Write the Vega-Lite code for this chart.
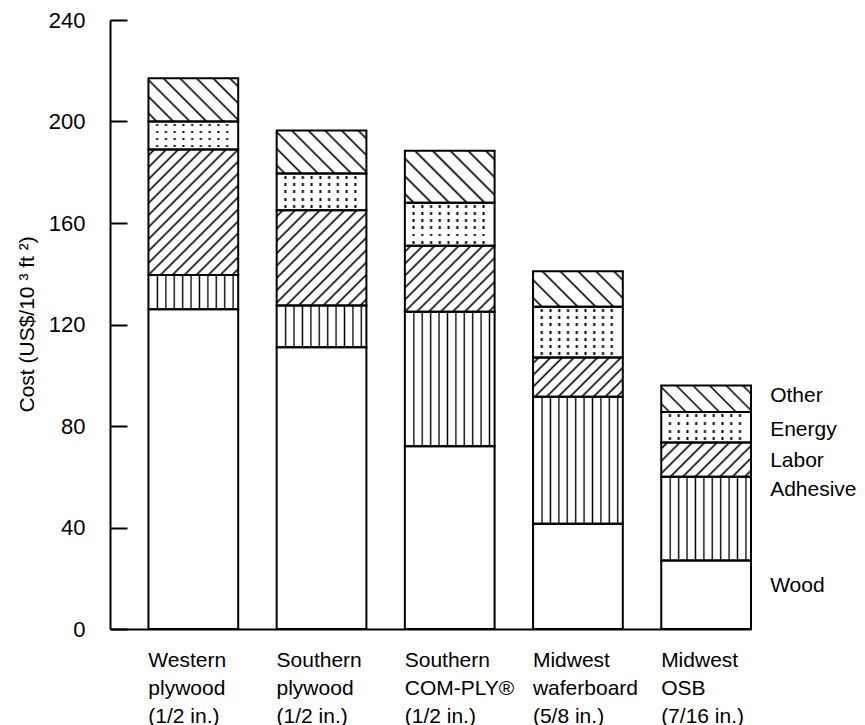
{
  "$schema": "https://vega.github.io/schema/vega-lite/v6.json",
  "width": 641,
  "height": 609,
  "autosize": {"type": "none"},
  "padding": {"left": 110, "top": 20, "right": 114, "bottom": 96},
  "background": "white",
  "config": {"view": {"stroke": null}, "font": "Liberation Sans"},
  "data": {"values": [
    {"product": "Western|plywood|(1/2 in.)", "component": "Wood", "cost": 126},
    {"product": "Western|plywood|(1/2 in.)", "component": "Adhesive", "cost": 13.5},
    {"product": "Western|plywood|(1/2 in.)", "component": "Labor", "cost": 49.5},
    {"product": "Western|plywood|(1/2 in.)", "component": "Energy", "cost": 11},
    {"product": "Western|plywood|(1/2 in.)", "component": "Other", "cost": 17},
    {"product": "Southern|plywood|(1/2 in.)", "component": "Wood", "cost": 111},
    {"product": "Southern|plywood|(1/2 in.)", "component": "Adhesive", "cost": 16.5},
    {"product": "Southern|plywood|(1/2 in.)", "component": "Labor", "cost": 37.5},
    {"product": "Southern|plywood|(1/2 in.)", "component": "Energy", "cost": 14.5},
    {"product": "Southern|plywood|(1/2 in.)", "component": "Other", "cost": 17},
    {"product": "Southern|COM-PLY®|(1/2 in.)", "component": "Wood", "cost": 72},
    {"product": "Southern|COM-PLY®|(1/2 in.)", "component": "Adhesive", "cost": 53},
    {"product": "Southern|COM-PLY®|(1/2 in.)", "component": "Labor", "cost": 26},
    {"product": "Southern|COM-PLY®|(1/2 in.)", "component": "Energy", "cost": 17},
    {"product": "Southern|COM-PLY®|(1/2 in.)", "component": "Other", "cost": 20.5},
    {"product": "Midwest|waferboard|(5/8 in.)", "component": "Wood", "cost": 41.5},
    {"product": "Midwest|waferboard|(5/8 in.)", "component": "Adhesive", "cost": 50},
    {"product": "Midwest|waferboard|(5/8 in.)", "component": "Labor", "cost": 15.5},
    {"product": "Midwest|waferboard|(5/8 in.)", "component": "Energy", "cost": 20},
    {"product": "Midwest|waferboard|(5/8 in.)", "component": "Other", "cost": 14},
    {"product": "Midwest|OSB|(7/16 in.)", "component": "Wood", "cost": 27},
    {"product": "Midwest|OSB|(7/16 in.)", "component": "Adhesive", "cost": 33},
    {"product": "Midwest|OSB|(7/16 in.)", "component": "Labor", "cost": 13.5},
    {"product": "Midwest|OSB|(7/16 in.)", "component": "Energy", "cost": 12},
    {"product": "Midwest|OSB|(7/16 in.)", "component": "Other", "cost": 10.5}
  ]},
  "transform": [{"stack": "cost", "groupby": ["product"], "as": ["c0", "c1"]}],
  "encoding": {
    "x": {
      "field": "product", "type": "nominal", "sort": null,
      "scale": {"type": "band", "paddingInner": 0.3, "paddingOuter": 0.15, "align": 1},
      "axis": {
        "title": null, "ticks": false, "domainColor": "black", "domainWidth": 2,
        "labelAlign": "left", "labelBaseline": "top", "labelOffset": -45, "labelPadding": 20,
        "labelFontSize": 21, "labelLineHeight": 28, "labelExpr": "split(datum.label, '|')",
        "labelAngle": 0, "labelOverlap": false, "labelColor": "black", "labelFont": "Liberation Sans", "labelBound": false, "labelFlush": false
      }
    },
    "y": {
      "field": "c1", "type": "quantitative",
      "scale": {"domain": [0, 240], "nice": false},
      "axis": {
        "values": [0, 40, 80, 120, 160, 200, 240], "grid": false,
        "tickSize": -17, "tickWidth": 2, "tickColor": "black", "domainColor": "black", "domainWidth": 2,
        "labelPadding": 42, "labelFontSize": 22, "labelColor": "black", "labelFont": "Liberation Sans",
        "title": "Cost (US$/10 ³ ft ²)", "titleFontSize": 21, "titleFontWeight": "normal", "titleColor": "black", "titleFont": "Liberation Sans",
        "titleX": -77, "titleY": 392, "titleAngle": -90, "titleBaseline": "alphabetic", "titleAlign": "left"
      }
    }
  },
  "layer": [
    {
      "mark": {"type": "bar", "strokeWidth": 0},
      "encoding": {
        "y2": {"field": "c0"},
        "fill": {
          "condition": [
            {"test": "datum.component=='Adhesive'", "value": {"gradient": "linear", "x1": 0, "y1": 0, "x2": 1, "y2": 0, "stops": [
              {"offset": 0.085, "color": "#fff"}, {"offset": 0.1, "color": "#000"}, {"offset": 0.115, "color": "#fff"},
              {"offset": 0.1787, "color": "#fff"}, {"offset": 0.1937, "color": "#000"}, {"offset": 0.2087, "color": "#fff"},
              {"offset": 0.2724, "color": "#fff"}, {"offset": 0.2874, "color": "#000"}, {"offset": 0.3024, "color": "#fff"},
              {"offset": 0.3661, "color": "#fff"}, {"offset": 0.3811, "color": "#000"}, {"offset": 0.3961, "color": "#fff"},
              {"offset": 0.4598, "color": "#fff"}, {"offset": 0.4748, "color": "#000"}, {"offset": 0.4898, "color": "#fff"},
              {"offset": 0.5535, "color": "#fff"}, {"offset": 0.5685, "color": "#000"}, {"offset": 0.5835, "color": "#fff"},
              {"offset": 0.6472, "color": "#fff"}, {"offset": 0.6622, "color": "#000"}, {"offset": 0.6772, "color": "#fff"},
              {"offset": 0.7409, "color": "#fff"}, {"offset": 0.7559, "color": "#000"}, {"offset": 0.7709, "color": "#fff"},
              {"offset": 0.8346, "color": "#fff"}, {"offset": 0.8496, "color": "#000"}, {"offset": 0.8646, "color": "#fff"},
              {"offset": 0.9283, "color": "#fff"}, {"offset": 0.9433, "color": "#000"}, {"offset": 0.9583, "color": "#fff"}
            ]}},
            {"test": "datum.component=='Energy'", "value": {"gradient": "linear", "x1": 0, "y1": 0, "x2": 1, "y2": 0, "stops": [
              {"offset": 0.075, "color": "#fff"}, {"offset": 0.097, "color": "#000"}, {"offset": 0.119, "color": "#fff"},
              {"offset": 0.1725, "color": "#fff"}, {"offset": 0.1945, "color": "#000"}, {"offset": 0.2165, "color": "#fff"},
              {"offset": 0.27, "color": "#fff"}, {"offset": 0.292, "color": "#000"}, {"offset": 0.314, "color": "#fff"},
              {"offset": 0.3675, "color": "#fff"}, {"offset": 0.3895, "color": "#000"}, {"offset": 0.4115, "color": "#fff"},
              {"offset": 0.465, "color": "#fff"}, {"offset": 0.487, "color": "#000"}, {"offset": 0.509, "color": "#fff"},
              {"offset": 0.5625, "color": "#fff"}, {"offset": 0.5845, "color": "#000"}, {"offset": 0.6065, "color": "#fff"},
              {"offset": 0.66, "color": "#fff"}, {"offset": 0.682, "color": "#000"}, {"offset": 0.704, "color": "#fff"},
              {"offset": 0.7575, "color": "#fff"}, {"offset": 0.7795, "color": "#000"}, {"offset": 0.8015, "color": "#fff"},
              {"offset": 0.855, "color": "#fff"}, {"offset": 0.877, "color": "#000"}, {"offset": 0.899, "color": "#fff"}
            ]}},
            {"test": "datum.component=='Labor' && indexof(datum.product,'Western')>=0", "value": {"gradient": "linear", "x1": 0, "y1": 0, "x2": 0.8107, "y2": 1.1352, "stops": [
              {"offset": 0.0173, "color": "#fff"}, {"offset": 0.0278, "color": "#000"}, {"offset": 0.0383, "color": "#fff"},
              {"offset": 0.0728, "color": "#fff"}, {"offset": 0.0833, "color": "#000"}, {"offset": 0.0938, "color": "#fff"},
              {"offset": 0.1284, "color": "#fff"}, {"offset": 0.1389, "color": "#000"}, {"offset": 0.1494, "color": "#fff"},
              {"offset": 0.1839, "color": "#fff"}, {"offset": 0.1944, "color": "#000"}, {"offset": 0.2049, "color": "#fff"},
              {"offset": 0.2395, "color": "#fff"}, {"offset": 0.25, "color": "#000"}, {"offset": 0.2605, "color": "#fff"},
              {"offset": 0.2951, "color": "#fff"}, {"offset": 0.3056, "color": "#000"}, {"offset": 0.3161, "color": "#fff"},
              {"offset": 0.3506, "color": "#fff"}, {"offset": 0.3611, "color": "#000"}, {"offset": 0.3716, "color": "#fff"},
              {"offset": 0.4062, "color": "#fff"}, {"offset": 0.4167, "color": "#000"}, {"offset": 0.4272, "color": "#fff"},
              {"offset": 0.4617, "color": "#fff"}, {"offset": 0.4722, "color": "#000"}, {"offset": 0.4827, "color": "#fff"},
              {"offset": 0.5173, "color": "#fff"}, {"offset": 0.5278, "color": "#000"}, {"offset": 0.5383, "color": "#fff"},
              {"offset": 0.5728, "color": "#fff"}, {"offset": 0.5833, "color": "#000"}, {"offset": 0.5938, "color": "#fff"},
              {"offset": 0.6284, "color": "#fff"}, {"offset": 0.6389, "color": "#000"}, {"offset": 0.6494, "color": "#fff"},
              {"offset": 0.6839, "color": "#fff"}, {"offset": 0.6944, "color": "#000"}, {"offset": 0.7049, "color": "#fff"},
              {"offset": 0.7395, "color": "#fff"}, {"offset": 0.75, "color": "#000"}, {"offset": 0.7605, "color": "#fff"},
              {"offset": 0.7951, "color": "#fff"}, {"offset": 0.8056, "color": "#000"}, {"offset": 0.8161, "color": "#fff"},
              {"offset": 0.8506, "color": "#fff"}, {"offset": 0.8611, "color": "#000"}, {"offset": 0.8716, "color": "#fff"},
              {"offset": 0.9062, "color": "#fff"}, {"offset": 0.9167, "color": "#000"}, {"offset": 0.9272, "color": "#fff"},
              {"offset": 0.9617, "color": "#fff"}, {"offset": 0.9722, "color": "#000"}, {"offset": 0.9827, "color": "#fff"}
            ]}},
            {"test": "datum.component=='Labor' && indexof(datum.product,'Southern|plywood')>=0", "value": {"gradient": "linear", "x1": 0, "y1": 0, "x2": 0.9694, "y2": 1.0288, "stops": [
              {"offset": 0.0211, "color": "#fff"}, {"offset": 0.0333, "color": "#000"}, {"offset": 0.0455, "color": "#fff"},
              {"offset": 0.0878, "color": "#fff"}, {"offset": 0.1, "color": "#000"}, {"offset": 0.1122, "color": "#fff"},
              {"offset": 0.1545, "color": "#fff"}, {"offset": 0.1667, "color": "#000"}, {"offset": 0.1789, "color": "#fff"},
              {"offset": 0.2211, "color": "#fff"}, {"offset": 0.2333, "color": "#000"}, {"offset": 0.2455, "color": "#fff"},
              {"offset": 0.2878, "color": "#fff"}, {"offset": 0.3, "color": "#000"}, {"offset": 0.3122, "color": "#fff"},
              {"offset": 0.3545, "color": "#fff"}, {"offset": 0.3667, "color": "#000"}, {"offset": 0.3789, "color": "#fff"},
              {"offset": 0.4211, "color": "#fff"}, {"offset": 0.4333, "color": "#000"}, {"offset": 0.4455, "color": "#fff"},
              {"offset": 0.4878, "color": "#fff"}, {"offset": 0.5, "color": "#000"}, {"offset": 0.5122, "color": "#fff"},
              {"offset": 0.5545, "color": "#fff"}, {"offset": 0.5667, "color": "#000"}, {"offset": 0.5789, "color": "#fff"},
              {"offset": 0.6211, "color": "#fff"}, {"offset": 0.6333, "color": "#000"}, {"offset": 0.6455, "color": "#fff"},
              {"offset": 0.6878, "color": "#fff"}, {"offset": 0.7, "color": "#000"}, {"offset": 0.7122, "color": "#fff"},
              {"offset": 0.7545, "color": "#fff"}, {"offset": 0.7667, "color": "#000"}, {"offset": 0.7789, "color": "#fff"},
              {"offset": 0.8211, "color": "#fff"}, {"offset": 0.8333, "color": "#000"}, {"offset": 0.8455, "color": "#fff"},
              {"offset": 0.8878, "color": "#fff"}, {"offset": 0.9, "color": "#000"}, {"offset": 0.9122, "color": "#fff"},
              {"offset": 0.9545, "color": "#fff"}, {"offset": 0.9667, "color": "#000"}, {"offset": 0.9789, "color": "#fff"}
            ]}},
            {"test": "datum.component=='Labor' && indexof(datum.product,'COM-PLY')>=0", "value": {"gradient": "linear", "x1": 0, "y1": 0, "x2": 1.1261, "y2": 0.8286, "stops": [
              {"offset": 0.024, "color": "#fff"}, {"offset": 0.0385, "color": "#000"}, {"offset": 0.053, "color": "#fff"},
              {"offset": 0.1009, "color": "#fff"}, {"offset": 0.1154, "color": "#000"}, {"offset": 0.1299, "color": "#fff"},
              {"offset": 0.1778, "color": "#fff"}, {"offset": 0.1923, "color": "#000"}, {"offset": 0.2068, "color": "#fff"},
              {"offset": 0.2547, "color": "#fff"}, {"offset": 0.2692, "color": "#000"}, {"offset": 0.2837, "color": "#fff"},
              {"offset": 0.3317, "color": "#fff"}, {"offset": 0.3462, "color": "#000"}, {"offset": 0.3607, "color": "#fff"},
              {"offset": 0.4086, "color": "#fff"}, {"offset": 0.4231, "color": "#000"}, {"offset": 0.4376, "color": "#fff"},
              {"offset": 0.4855, "color": "#fff"}, {"offset": 0.5, "color": "#000"}, {"offset": 0.5145, "color": "#fff"},
              {"offset": 0.5624, "color": "#fff"}, {"offset": 0.5769, "color": "#000"}, {"offset": 0.5914, "color": "#fff"},
              {"offset": 0.6393, "color": "#fff"}, {"offset": 0.6538, "color": "#000"}, {"offset": 0.6683, "color": "#fff"},
              {"offset": 0.7163, "color": "#fff"}, {"offset": 0.7308, "color": "#000"}, {"offset": 0.7453, "color": "#fff"},
              {"offset": 0.7932, "color": "#fff"}, {"offset": 0.8077, "color": "#000"}, {"offset": 0.8222, "color": "#fff"},
              {"offset": 0.8701, "color": "#fff"}, {"offset": 0.8846, "color": "#000"}, {"offset": 0.8991, "color": "#fff"},
              {"offset": 0.947, "color": "#fff"}, {"offset": 0.9615, "color": "#000"}, {"offset": 0.976, "color": "#fff"}
            ]}},
            {"test": "datum.component=='Labor' && indexof(datum.product,'waferboard')>=0", "value": {"gradient": "linear", "x1": 0, "y1": 0, "x2": 1.2066, "y2": 0.5286, "stops": [
              {"offset": 0.028, "color": "#fff"}, {"offset": 0.0455, "color": "#000"}, {"offset": 0.063, "color": "#fff"},
              {"offset": 0.1189, "color": "#fff"}, {"offset": 0.1364, "color": "#000"}, {"offset": 0.1539, "color": "#fff"},
              {"offset": 0.2098, "color": "#fff"}, {"offset": 0.2273, "color": "#000"}, {"offset": 0.2448, "color": "#fff"},
              {"offset": 0.3007, "color": "#fff"}, {"offset": 0.3182, "color": "#000"}, {"offset": 0.3357, "color": "#fff"},
              {"offset": 0.3916, "color": "#fff"}, {"offset": 0.4091, "color": "#000"}, {"offset": 0.4266, "color": "#fff"},
              {"offset": 0.4825, "color": "#fff"}, {"offset": 0.5, "color": "#000"}, {"offset": 0.5175, "color": "#fff"},
              {"offset": 0.5734, "color": "#fff"}, {"offset": 0.5909, "color": "#000"}, {"offset": 0.6084, "color": "#fff"},
              {"offset": 0.6643, "color": "#fff"}, {"offset": 0.6818, "color": "#000"}, {"offset": 0.6993, "color": "#fff"},
              {"offset": 0.7552, "color": "#fff"}, {"offset": 0.7727, "color": "#000"}, {"offset": 0.7902, "color": "#fff"},
              {"offset": 0.8461, "color": "#fff"}, {"offset": 0.8636, "color": "#000"}, {"offset": 0.8811, "color": "#fff"},
              {"offset": 0.937, "color": "#fff"}, {"offset": 0.9545, "color": "#000"}, {"offset": 0.972, "color": "#fff"}
            ]}},
            {"test": "datum.component=='Labor' && indexof(datum.product,'OSB')>=0", "value": {"gradient": "linear", "x1": 0, "y1": 0, "x2": 1.206, "y2": 0.4612, "stops": [
              {"offset": 0.0318, "color": "#fff"}, {"offset": 0.05, "color": "#000"}, {"offset": 0.0682, "color": "#fff"},
              {"offset": 0.1318, "color": "#fff"}, {"offset": 0.15, "color": "#000"}, {"offset": 0.1682, "color": "#fff"},
              {"offset": 0.2318, "color": "#fff"}, {"offset": 0.25, "color": "#000"}, {"offset": 0.2682, "color": "#fff"},
              {"offset": 0.3318, "color": "#fff"}, {"offset": 0.35, "color": "#000"}, {"offset": 0.3682, "color": "#fff"},
              {"offset": 0.4318, "color": "#fff"}, {"offset": 0.45, "color": "#000"}, {"offset": 0.4682, "color": "#fff"},
              {"offset": 0.5318, "color": "#fff"}, {"offset": 0.55, "color": "#000"}, {"offset": 0.5682, "color": "#fff"},
              {"offset": 0.6318, "color": "#fff"}, {"offset": 0.65, "color": "#000"}, {"offset": 0.6682, "color": "#fff"},
              {"offset": 0.7318, "color": "#fff"}, {"offset": 0.75, "color": "#000"}, {"offset": 0.7682, "color": "#fff"},
              {"offset": 0.8318, "color": "#fff"}, {"offset": 0.85, "color": "#000"}, {"offset": 0.8682, "color": "#fff"},
              {"offset": 0.9318, "color": "#fff"}, {"offset": 0.95, "color": "#000"}, {"offset": 0.9682, "color": "#fff"}
            ]}},
            {"test": "datum.component=='Other' && (indexof(datum.product,'Western')>=0 || indexof(datum.product,'Southern|plywood')>=0)", "value": {"gradient": "linear", "x1": 0, "y1": 1, "x2": 1.2028, "y2": 0.4221, "stops": [
              {"offset": 0.0455, "color": "#fff"}, {"offset": 0.0625, "color": "#000"}, {"offset": 0.0795, "color": "#fff"},
              {"offset": 0.1705, "color": "#fff"}, {"offset": 0.1875, "color": "#000"}, {"offset": 0.2045, "color": "#fff"},
              {"offset": 0.2955, "color": "#fff"}, {"offset": 0.3125, "color": "#000"}, {"offset": 0.3295, "color": "#fff"},
              {"offset": 0.4205, "color": "#fff"}, {"offset": 0.4375, "color": "#000"}, {"offset": 0.4545, "color": "#fff"},
              {"offset": 0.5455, "color": "#fff"}, {"offset": 0.5625, "color": "#000"}, {"offset": 0.5795, "color": "#fff"},
              {"offset": 0.6705, "color": "#fff"}, {"offset": 0.6875, "color": "#000"}, {"offset": 0.7045, "color": "#fff"},
              {"offset": 0.7955, "color": "#fff"}, {"offset": 0.8125, "color": "#000"}, {"offset": 0.8295, "color": "#fff"},
              {"offset": 0.9205, "color": "#fff"}, {"offset": 0.9375, "color": "#000"}, {"offset": 0.9545, "color": "#fff"}
            ]}},
            {"test": "datum.component=='Other' && indexof(datum.product,'COM-PLY')>=0", "value": {"gradient": "linear", "x1": 0, "y1": 1, "x2": 1.1823, "y2": 0.3146, "stops": [
              {"offset": 0.0455, "color": "#fff"}, {"offset": 0.0625, "color": "#000"}, {"offset": 0.0795, "color": "#fff"},
              {"offset": 0.1705, "color": "#fff"}, {"offset": 0.1875, "color": "#000"}, {"offset": 0.2045, "color": "#fff"},
              {"offset": 0.2955, "color": "#fff"}, {"offset": 0.3125, "color": "#000"}, {"offset": 0.3295, "color": "#fff"},
              {"offset": 0.4205, "color": "#fff"}, {"offset": 0.4375, "color": "#000"}, {"offset": 0.4545, "color": "#fff"},
              {"offset": 0.5455, "color": "#fff"}, {"offset": 0.5625, "color": "#000"}, {"offset": 0.5795, "color": "#fff"},
              {"offset": 0.6705, "color": "#fff"}, {"offset": 0.6875, "color": "#000"}, {"offset": 0.7045, "color": "#fff"},
              {"offset": 0.7955, "color": "#fff"}, {"offset": 0.8125, "color": "#000"}, {"offset": 0.8295, "color": "#fff"},
              {"offset": 0.9205, "color": "#fff"}, {"offset": 0.9375, "color": "#000"}, {"offset": 0.9545, "color": "#fff"}
            ]}},
            {"test": "datum.component=='Other' && indexof(datum.product,'waferboard')>=0", "value": {"gradient": "linear", "x1": 0, "y1": 1, "x2": 1.2068, "y2": 0.5224, "stops": [
              {"offset": 0.0534, "color": "#fff"}, {"offset": 0.0714, "color": "#000"}, {"offset": 0.0894, "color": "#fff"},
              {"offset": 0.1963, "color": "#fff"}, {"offset": 0.2143, "color": "#000"}, {"offset": 0.2323, "color": "#fff"},
              {"offset": 0.3391, "color": "#fff"}, {"offset": 0.3571, "color": "#000"}, {"offset": 0.3751, "color": "#fff"},
              {"offset": 0.482, "color": "#fff"}, {"offset": 0.5, "color": "#000"}, {"offset": 0.518, "color": "#fff"},
              {"offset": 0.6249, "color": "#fff"}, {"offset": 0.6429, "color": "#000"}, {"offset": 0.6609, "color": "#fff"},
              {"offset": 0.7677, "color": "#fff"}, {"offset": 0.7857, "color": "#000"}, {"offset": 0.8037, "color": "#fff"},
              {"offset": 0.9106, "color": "#fff"}, {"offset": 0.9286, "color": "#000"}, {"offset": 0.9466, "color": "#fff"}
            ]}},
            {"test": "datum.component=='Other' && indexof(datum.product,'OSB')>=0", "value": {"gradient": "linear", "x1": 0, "y1": 1, "x2": 1.1918, "y2": 0.6466, "stops": [
              {"offset": 0.0534, "color": "#fff"}, {"offset": 0.0714, "color": "#000"}, {"offset": 0.0894, "color": "#fff"},
              {"offset": 0.1963, "color": "#fff"}, {"offset": 0.2143, "color": "#000"}, {"offset": 0.2323, "color": "#fff"},
              {"offset": 0.3391, "color": "#fff"}, {"offset": 0.3571, "color": "#000"}, {"offset": 0.3751, "color": "#fff"},
              {"offset": 0.482, "color": "#fff"}, {"offset": 0.5, "color": "#000"}, {"offset": 0.518, "color": "#fff"},
              {"offset": 0.6249, "color": "#fff"}, {"offset": 0.6429, "color": "#000"}, {"offset": 0.6609, "color": "#fff"},
              {"offset": 0.7677, "color": "#fff"}, {"offset": 0.7857, "color": "#000"}, {"offset": 0.8037, "color": "#fff"},
              {"offset": 0.9106, "color": "#fff"}, {"offset": 0.9286, "color": "#000"}, {"offset": 0.9466, "color": "#fff"}
            ]}}
          ],
          "value": "white"
        }
      }
    },
    {
      "transform": [{"filter": "datum.component=='Energy'"}],
      "mark": {"type": "bar", "strokeWidth": 0},
      "encoding": {
        "y2": {"field": "c0"},
        "fill": {
          "condition": [
            {"test": "indexof(datum.product,'Southern|plywood')>=0", "value": {"gradient": "linear", "x1": 0, "y1": 0, "x2": 0, "y2": 1, "stops": [
              {"offset": 0.06, "color": "#fff"}, {"offset": 0.06, "color": "transparent"}, {"offset": 0.14, "color": "transparent"}, {"offset": 0.14, "color": "#fff"},
              {"offset": 0.26, "color": "#fff"}, {"offset": 0.26, "color": "transparent"}, {"offset": 0.34, "color": "transparent"}, {"offset": 0.34, "color": "#fff"},
              {"offset": 0.46, "color": "#fff"}, {"offset": 0.46, "color": "transparent"}, {"offset": 0.54, "color": "transparent"}, {"offset": 0.54, "color": "#fff"},
              {"offset": 0.66, "color": "#fff"}, {"offset": 0.66, "color": "transparent"}, {"offset": 0.74, "color": "transparent"}, {"offset": 0.74, "color": "#fff"},
              {"offset": 0.86, "color": "#fff"}, {"offset": 0.86, "color": "transparent"}, {"offset": 0.94, "color": "transparent"}, {"offset": 0.94, "color": "#fff"}
            ]}},
            {"test": "indexof(datum.product,'COM-PLY')>=0", "value": {"gradient": "linear", "x1": 0, "y1": 0, "x2": 0, "y2": 1, "stops": [
              {"offset": 0.05, "color": "#fff"}, {"offset": 0.05, "color": "transparent"}, {"offset": 0.1167, "color": "transparent"}, {"offset": 0.1167, "color": "#fff"},
              {"offset": 0.2167, "color": "#fff"}, {"offset": 0.2167, "color": "transparent"}, {"offset": 0.2833, "color": "transparent"}, {"offset": 0.2833, "color": "#fff"},
              {"offset": 0.3833, "color": "#fff"}, {"offset": 0.3833, "color": "transparent"}, {"offset": 0.45, "color": "transparent"}, {"offset": 0.45, "color": "#fff"},
              {"offset": 0.55, "color": "#fff"}, {"offset": 0.55, "color": "transparent"}, {"offset": 0.6167, "color": "transparent"}, {"offset": 0.6167, "color": "#fff"},
              {"offset": 0.7167, "color": "#fff"}, {"offset": 0.7167, "color": "transparent"}, {"offset": 0.7833, "color": "transparent"}, {"offset": 0.7833, "color": "#fff"},
              {"offset": 0.8833, "color": "#fff"}, {"offset": 0.8833, "color": "transparent"}, {"offset": 0.95, "color": "transparent"}, {"offset": 0.95, "color": "#fff"}
            ]}},
            {"test": "indexof(datum.product,'waferboard')>=0", "value": {"gradient": "linear", "x1": 0, "y1": 0, "x2": 0, "y2": 1, "stops": [
              {"offset": 0.0429, "color": "#fff"}, {"offset": 0.0429, "color": "transparent"}, {"offset": 0.1, "color": "transparent"}, {"offset": 0.1, "color": "#fff"},
              {"offset": 0.1857, "color": "#fff"}, {"offset": 0.1857, "color": "transparent"}, {"offset": 0.2429, "color": "transparent"}, {"offset": 0.2429, "color": "#fff"},
              {"offset": 0.3286, "color": "#fff"}, {"offset": 0.3286, "color": "transparent"}, {"offset": 0.3857, "color": "transparent"}, {"offset": 0.3857, "color": "#fff"},
              {"offset": 0.4714, "color": "#fff"}, {"offset": 0.4714, "color": "transparent"}, {"offset": 0.5286, "color": "transparent"}, {"offset": 0.5286, "color": "#fff"},
              {"offset": 0.6143, "color": "#fff"}, {"offset": 0.6143, "color": "transparent"}, {"offset": 0.6714, "color": "transparent"}, {"offset": 0.6714, "color": "#fff"},
              {"offset": 0.7571, "color": "#fff"}, {"offset": 0.7571, "color": "transparent"}, {"offset": 0.8143, "color": "transparent"}, {"offset": 0.8143, "color": "#fff"},
              {"offset": 0.9, "color": "#fff"}, {"offset": 0.9, "color": "transparent"}, {"offset": 0.9571, "color": "transparent"}, {"offset": 0.9571, "color": "#fff"}
            ]}}
          ],
          "value": {"gradient": "linear", "x1": 0, "y1": 0, "x2": 0, "y2": 1, "stops": [
            {"offset": 0.075, "color": "#fff"}, {"offset": 0.075, "color": "transparent"}, {"offset": 0.175, "color": "transparent"}, {"offset": 0.175, "color": "#fff"},
            {"offset": 0.325, "color": "#fff"}, {"offset": 0.325, "color": "transparent"}, {"offset": 0.425, "color": "transparent"}, {"offset": 0.425, "color": "#fff"},
            {"offset": 0.575, "color": "#fff"}, {"offset": 0.575, "color": "transparent"}, {"offset": 0.675, "color": "transparent"}, {"offset": 0.675, "color": "#fff"},
            {"offset": 0.825, "color": "#fff"}, {"offset": 0.825, "color": "transparent"}, {"offset": 0.925, "color": "transparent"}, {"offset": 0.925, "color": "#fff"}
          ]}
        }
      }
    },
    {
      "mark": {"type": "bar", "fillOpacity": 0, "stroke": "black", "strokeWidth": 2},
      "encoding": {"y2": {"field": "c0"}}
    },
    {
      "transform": [{"filter": "indexof(datum.product,'OSB')>=0"}],
      "mark": {"type": "text", "align": "left", "baseline": "middle", "dx": 64, "fontSize": 21, "font": "Liberation Sans", "fill": "black",
        "dy": {"expr": "datum.component=='Other' ? 11 : datum.component=='Energy' ? 18 : datum.component=='Labor' ? 19 : datum.component=='Adhesive' ? 13.5 : 25.5"}},
      "encoding": {"text": {"field": "component"}}
    }
  ]
}
